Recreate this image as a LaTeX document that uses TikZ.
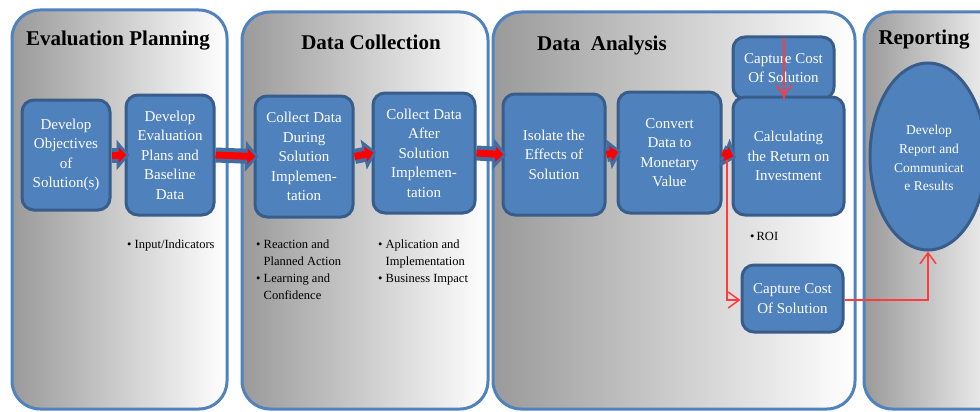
\documentclass[tikz,border=0pt]{standalone}
\usepackage{fontspec}
\setmainfont{Liberation Serif}
\usetikzlibrary{arrows.meta,shapes.geometric}
\definecolor{panelblue}{HTML}{5082BE}
\definecolor{boxfill}{HTML}{4F81BD}
\definecolor{boxline}{HTML}{385D8A}
\definecolor{arrblue}{HTML}{426DA3}
\definecolor{linered}{HTML}{FF3B3B}
\definecolor{shadegray}{HTML}{9A9A9A}
\begin{document}
\begin{tikzpicture}[x=1pt,y=-1pt,
  panel/.style={draw=panelblue, line width=3pt, rounded corners=28pt, left color=shadegray, right color=white, inner sep=0pt},
  stepbox/.style={draw=boxline, fill=boxfill, line width=3pt, rounded corners=12pt, text=white, align=center, inner sep=2pt, font=\fontsize{15}{19.5}\selectfont},
  ovalbox/.style={ellipse, draw=boxline, fill=boxfill, line width=3pt, inner sep=0pt},
  ovaltext/.style={text=white, align=center, inner sep=0pt, font=\fontsize{13.5}{18.8}\selectfont},
  title/.style={font=\fontsize{21}{24}\selectfont\bfseries, text=black, inner sep=0pt},
  bul/.style={align=left, anchor=north west, inner sep=0pt, font=\fontsize{12.5}{16.8}\selectfont},
  bluearr/.style={draw=arrblue, line width=15pt, -{Triangle[width=30pt,length=13pt]}, shorten >=-5pt},
  redarr/.style={draw=red, line width=7pt, -{Triangle[width=15pt,length=8pt]}, shorten >=-2pt},
  link/.style={draw=linered, line width=1.5pt, -{Straight Barb[length=11pt,width=16pt,line width=1.5pt]}}
]
\useasboundingbox (0,0) rectangle (980,412);
\clip (0,0) rectangle (980,412);
\fill[white] (0,0) rectangle (980,412);

% panels
\node[panel, minimum width=215pt, minimum height=399pt] (p1) at (119.5,209.5) {};
\node[panel, minimum width=246pt, minimum height=397pt] (p2) at (365,210.5) {};
\node[panel, minimum width=362pt, minimum height=397pt] (p3) at (674,210.5) {};
\node[panel, minimum width=150pt, minimum height=397pt] (p4) at (939,210.5) {};

% titles
\node[title] (t1) at (118,41) {Evaluation Planning};
\node[title] (t2) at (371,42) {Data Collection};
\node[title] (t3) at (602,45) {Data\ \ Analysis};
\node[title] (t4) at (924,40) {Reporting};

% boxes
\node[stepbox, minimum width=88pt, minimum height=110pt] (b1) at (66,155) {Develop\\Objectives\\of\\Solution(s)};
\node[stepbox, minimum width=88pt, minimum height=120pt] (b2) at (170,155) {Develop\\Evaluation\\Plans and\\Baseline\\Data};
\node[stepbox, minimum width=98pt, minimum height=121pt] (c1) at (304,156.5) {Collect Data\\During\\Solution\\Implemen-\\tation};
\node[stepbox, minimum width=102pt, minimum height=120pt] (c2) at (424,153) {Collect Data\\After\\Solution\\Implemen-\\tation};
\node[stepbox, minimum width=102pt, minimum height=121pt] (d1) at (554,154.5) {Isolate the\\Effects of\\Solution};
\node[stepbox, minimum width=103pt, minimum height=121pt] (d2) at (669.5,152.5) {Convert\\Data to\\Monetary\\Value};
\node[stepbox, minimum width=101pt, minimum height=62pt] (d4) at (783.5,68) {Capture Cost\\Of Solution};
\node[stepbox, minimum width=111pt, minimum height=118pt] (d3) at (788.5,156) {Calculating\\the Return on\\Investment};
\node[stepbox, minimum width=101pt, minimum height=67pt] (d5) at (792.5,298.5) {Capture Cost\\Of Solution};
\node[ovalbox, minimum width=116pt, minimum height=187pt] (e1) at (928,156.5) {};
\node[ovaltext] (e1t) at (929,158) {Develop\\Report and\\Communicat\\e Results};

% block arrows
\foreach \s/\t in {b1/b2, b2/c1, c1/c2, c2/d1, d1/d2, d2/d3}{
  \draw[bluearr] (\s.east) -- (\t.west);
  \draw[redarr] (\s.east) -- (\t.west);
}

% red connectors
\coordinate (d4top) at (784,38);
\coordinate (d3top) at (784,97);
\coordinate (split) at (727,160);
\coordinate (bend1) at (727,300);
\draw[draw=linered, line width=1.5pt] (d4top) -- ([yshift=-2pt]d3top);
\draw[link] (d4top) -- (d3top);
\draw[link] (split) -- (bend1) -- (d5.west |- bend1);
\draw[link] (d5.east |- bend1) -- (e1.south |- bend1) -- (e1.south);

% bullet notes
\node[bul] (n1) at (127,240) {\textbullet\ Input/Indicators};
\node[bul] (n2) at (256,240) {\textbullet\ Reaction and\\\hphantom{\textbullet\ }Planned Action\\\textbullet\ Learning and\\\hphantom{\textbullet\ }Confidence};
\node[bul] (n3) at (378,240) {\textbullet\ Aplication and\\\hphantom{\textbullet\ }Implementation\\\textbullet\ Business Impact};
\node[bul] (n4) at (750,232) {\textbullet\,ROI};
\end{tikzpicture}
\end{document}
